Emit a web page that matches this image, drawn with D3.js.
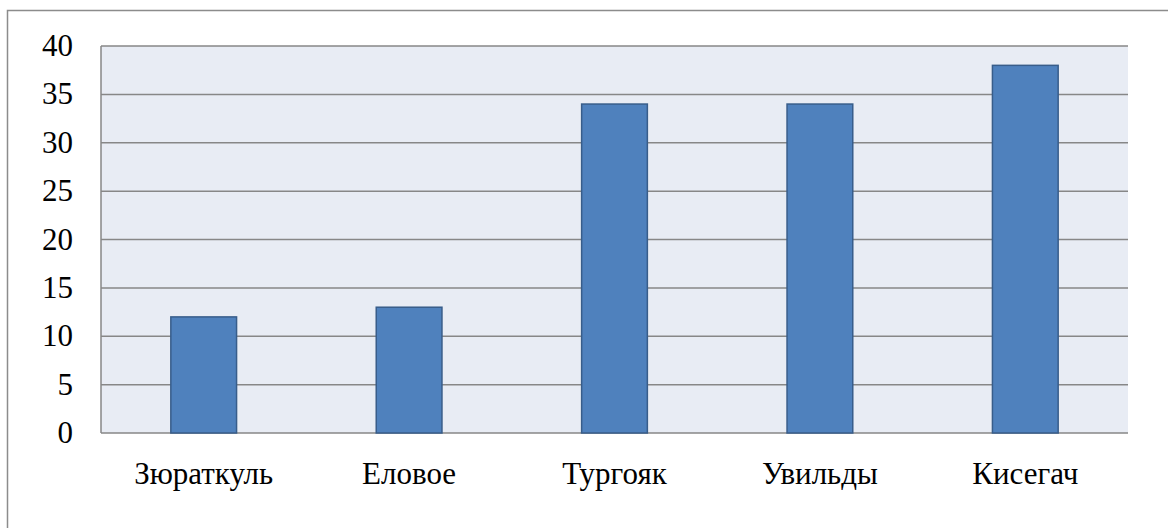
<!DOCTYPE html>
<html>
<head>
<meta charset="utf-8">
<script src="https://cdn.jsdelivr.net/npm/d3@7"></script>
<style>
  body { margin: 0; background: #fff; }
</style>
</head>
<body>
<script>
// lakes and values
const lakes = ['Зюраткуль', 'Еловое', 'Тургояк', 'Увильды', 'Кисегач'];
const values = [12, 13, 34, 34, 38];
const yTicks = [0, 5, 10, 15, 20, 25, 30, 35, 40];

const svgWidth = 1168;
const svgHeight = 528;
const margin = { top: 46, right: 40, bottom: 95, left: 101 };
const width = svgWidth - margin.left - margin.right;
const height = svgHeight - margin.top - margin.bottom;

const svg = d3.select('body').append('svg')
    .attr('width', svgWidth)
    .attr('height', svgHeight);

// outer chart border (runs off the right and bottom edges)
svg.append('rect')
    .attr('x', 7.5)
    .attr('y', 10.5)
    .attr('width', svgWidth)
    .attr('height', svgHeight)
    .attr('fill', 'none')
    .attr('stroke', '#8c8c8c')
    .attr('stroke-width', 1.5);

const chart = svg.append('g')
    .attr('transform', `translate(${margin.left},${margin.top})`);

const xScale = d3.scaleBand()
    .domain(lakes)
    .range([0, width])
    .paddingInner(0.68)
    .paddingOuter(0.34);

const yScale = d3.scaleLinear()
    .domain([0, 40])
    .range([height, 0]);

// plot background
chart.append('rect')
    .attr('width', width)
    .attr('height', height)
    .attr('fill', '#e8ecf4');

// gridlines
chart.selectAll('.grid')
    .data(yTicks)
    .enter().append('line')
    .attr('class', 'grid')
    .attr('x1', 0)
    .attr('x2', width)
    .attr('y1', d => yScale(d))
    .attr('y2', d => yScale(d))
    .attr('stroke', '#878787')
    .attr('stroke-width', 1.5);

chart.append('line')
    .attr('x1', 0).attr('x2', 0)
    .attr('y1', 0).attr('y2', height)
    .attr('stroke', '#878787')
    .attr('stroke-width', 1.5);

// bars
chart.selectAll('.bar')
    .data(values)
    .enter().append('rect')
    .attr('class', 'bar')
    .attr('x', (d, i) => xScale(lakes[i]))
    .attr('y', d => yScale(d))
    .attr('width', xScale.bandwidth())
    .attr('height', d => height - yScale(d))
    .attr('fill', '#4f81bd')
    .attr('stroke', '#385d8a')
    .attr('stroke-width', 1.5);

// y labels
chart.selectAll('.y-label')
    .data(yTicks)
    .enter().append('text')
    .attr('class', 'y-label')
    .attr('x', -28)
    .attr('y', d => yScale(d) + 10)
    .attr('text-anchor', 'end')
    .style('font-family', '"Liberation Serif"')
    .style('font-size', '31px')
    .style('fill', '#000')
    .text(d => d);

// x labels
chart.selectAll('.x-label')
    .data(lakes)
    .enter().append('text')
    .attr('class', 'x-label')
    .attr('x', d => xScale(d) + xScale.bandwidth() / 2)
    .attr('y', height + 51)
    .attr('text-anchor', 'middle')
    .style('font-family', '"Liberation Serif"')
    .style('font-size', '31px')
    .style('fill', '#000')
    .text(d => d);
</script>
</body>
</html>
